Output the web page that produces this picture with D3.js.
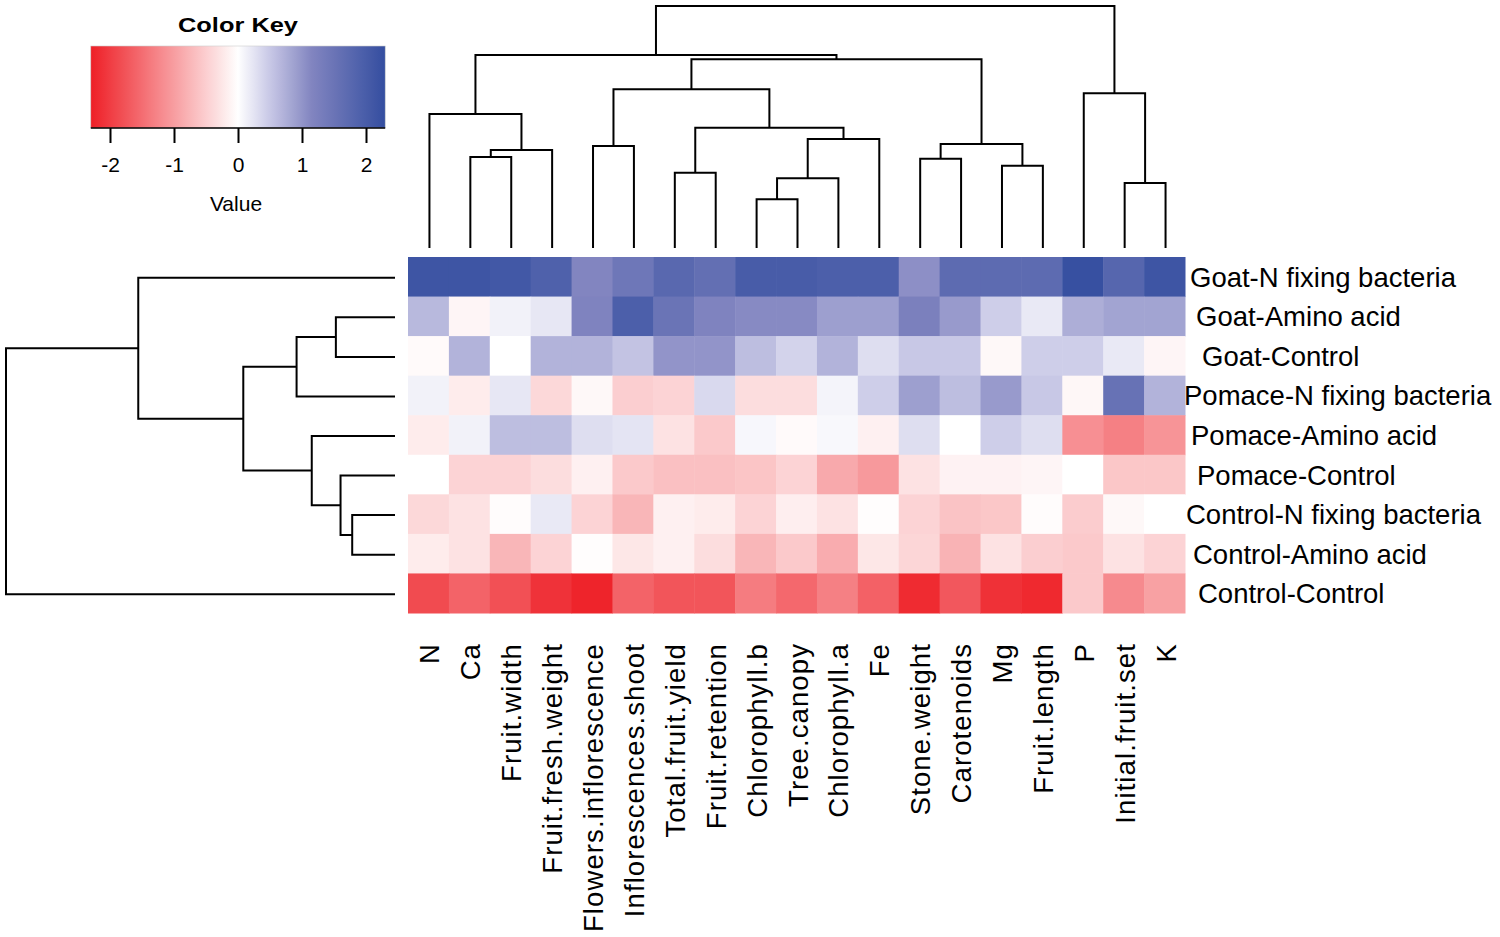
<!DOCTYPE html>
<html lang="en">
<head>
  <meta charset="UTF-8">
  <title>Heatmap with dendrograms</title>
  <script src="https://d3js.org/d3.v7.min.js"></script>
  <style>
    body {
      margin: 0;
      background: #fff;
      font-family: "Liberation Sans", Arial, sans-serif;
    }
    .branch {
      fill: none;
      stroke: #000;
      stroke-width: 2px;
    }
    .row-label {
      font-size: 27.5px;
      fill: #000;
    }
    .col-label {
      font-size: 27.5px;
      letter-spacing: 1.1px;
      fill: #000;
    }
  </style>
</head>
<body>
  <svg id="chart" width="1500" height="937"></svg>
  <script>
    // treatments (rows, top to bottom) and traits (columns, left to right)
    const rows = [
      "Goat-N fixing bacteria", "Goat-Amino acid", "Goat-Control",
      "Pomace-N fixing bacteria", "Pomace-Amino acid", "Pomace-Control",
      "Control-N fixing bacteria", "Control-Amino acid", "Control-Control"
    ];
    const cols = [
      "N", "Ca", "Fruit.width", "Fruit.fresh.weight", "Flowers.inflorescence",
      "Inflorescences.shoot", "Total.fruit.yield", "Fruit.retention",
      "Chlorophyll.b", "Tree.canopy", "Chlorophyll.a", "Fe", "Stone.weight",
      "Carotenoids", "Mg", "Fruit.length", "P", "Initial.fruit.set", "K"
    ];

    // scaled values, one array per row
    const goatN       = [2.15, 2.15, 2.1, 1.9, 1.15, 1.45, 1.75, 1.6, 2.0, 2.0, 1.95, 1.95, 1.05, 1.7, 1.7, 1.7, 2.25, 1.8, 2.15];
    const goatAmino   = [0.65, -0.1, 0.12, 0.22, 1.2, 1.95, 1.5, 1.2, 1.1, 1.1, 0.9, 0.9, 1.25, 0.95, 0.45, 0.2, 0.75, 0.85, 0.85];
    const goatCtrl    = [-0.05, 0.7, 0.0, 0.7, 0.7, 0.55, 1.0, 1.0, 0.6, 0.4, 0.7, 0.3, 0.5, 0.5, -0.07, 0.45, 0.45, 0.2, -0.1];
    const pomaceN     = [0.12, -0.2, 0.22, -0.4, -0.07, -0.5, -0.45, 0.35, -0.35, -0.35, 0.1, 0.45, 0.9, 0.6, 0.95, 0.5, -0.08, 1.55, 0.7];
    const pomaceAmino = [-0.2, 0.12, 0.6, 0.6, 0.3, 0.25, -0.3, -0.55, 0.07, -0.05, 0.06, -0.15, 0.3, 0.0, 0.45, 0.3, -1.15, -1.3, -1.1];
    const pomaceCtrl  = [0.0, -0.45, -0.45, -0.35, -0.15, -0.55, -0.65, -0.65, -0.6, -0.45, -0.88, -1.05, -0.3, -0.13, -0.13, -0.1, 0.0, -0.58, -0.58];
    const ctrlN       = [-0.4, -0.3, -0.03, 0.2, -0.45, -0.75, -0.15, -0.2, -0.45, -0.17, -0.3, -0.02, -0.45, -0.62, -0.58, -0.03, -0.52, -0.07, 0.0];
    const ctrlAmino   = [-0.2, -0.3, -0.75, -0.45, -0.02, -0.25, -0.15, -0.35, -0.75, -0.55, -0.85, -0.25, -0.42, -0.78, -0.3, -0.5, -0.55, -0.3, -0.45];
    const ctrlCtrl    = [-1.85, -1.6, -1.8, -2.1, -2.25, -1.6, -1.75, -1.75, -1.35, -1.55, -1.3, -1.62, -2.18, -1.72, -2.12, -2.2, -0.55, -1.2, -0.97];
    const values = [goatN, goatAmino, goatCtrl, pomaceN, pomaceAmino, pomaceCtrl, ctrlN, ctrlAmino, ctrlCtrl];

    // hclust-style merges: negative = leaf (1-based), positive = earlier merge
    const colMerge = [
      [-9, -10], [-18, -19], [1, -11], [-7, -8], [-15, -16], [-13, -14],
      [-2, -3], [7, -4], [-5, -6], [6, 5], [3, -12], [4, 11], [-1, 8],
      [-17, 2], [9, 12], [15, 10], [13, 16], [17, 14]
    ];
    const colHeight = [2.01, 2.69, 2.88, 3.11, 3.40, 3.69, 3.76, 4.05, 4.21, 4.30, 4.50, 4.97, 5.54, 6.39, 6.56, 7.80, 7.98, 10.0];
    const rowMerge = [[-7, -8], [-6, 1], [-2, -3], [-5, 2], [3, -4], [5, 4], [-1, 6], [7, -9]];
    const rowHeight = [1.10, 1.40, 1.52, 2.14, 2.53, 3.90, 6.60, 10.0];

    // colour key
    const keyTicks = [-2, -1, 0, 1, 2];
    const keyRange = [-2.3, 2.3];

    const svg = d3.select("#chart");

    const x = d3.scaleBand().domain(cols).range([408, 1185]);
    const y = d3.scaleBand().domain(rows).range([257, 613]);
    const color = d3.scaleLinear()
      .domain([keyRange[0], 0, 0.5, 1.15, keyRange[1]])
      .range(["#ee1f26", "#ffffff", "#c8c8e6", "#8285c0", "#344ea0"])
      .clamp(true);

    // heatmap cells
    const cells = [];
    rows.forEach((r, i) => cols.forEach((c, j) => cells.push({ r, c, v: values[i][j] })));
    svg.append("g")
      .selectAll("rect")
      .data(cells)
      .enter()
      .append("rect")
      .attr("x", d => x(d.c))
      .attr("y", d => y(d.r))
      .attr("width", x.bandwidth() + 0.5)
      .attr("height", y.bandwidth() + 0.5)
      .attr("fill", d => color(d.v));

    // row labels (the original has a small stagger between them)
    const rowNudge = [5, 11, 17, -1, 6, 12, 1, 8, 13];
    svg.append("g")
      .selectAll("text")
      .data(rows)
      .enter()
      .append("text")
      .attr("class", "row-label")
      .attr("x", (d, i) => 1185 + rowNudge[i])
      .attr("y", d => y(d) + y.bandwidth() / 2 + 10)
      .text(d => d);

    // column labels, rotated
    svg.append("g")
      .selectAll("text")
      .data(cols)
      .enter()
      .append("text")
      .attr("class", "col-label")
      .attr("text-anchor", "end")
      .attr("transform", d => `translate(${x(d) + x.bandwidth() / 2 + 11},643) rotate(-90)`)
      .text(d => d);

    // generic dendrogram from merge list
    function dendro(merge, heights, leafPos, hScale, vertical) {
      const pos = [], hgt = [];
      const at = k => k < 0 ? [leafPos(-k - 1), 0] : [pos[k - 1], hgt[k - 1]];
      const paths = [];
      merge.forEach((m, i) => {
        const [p1, h1] = at(m[0]);
        const [p2, h2] = at(m[1]);
        const h = heights[i];
        pos.push((p1 + p2) / 2);
        hgt.push(h);
        const pts = [[p1, h1], [p1, h], [p2, h], [p2, h2]]
          .map(([p, hh]) => vertical ? [p, hScale(hh)] : [hScale(hh), p]);
        paths.push(pts);
      });
      return paths;
    }

    const colH = d3.scaleLinear().domain([0, 10]).range([248, 6]);
    const rowH = d3.scaleLinear().domain([0, 10]).range([395, 6]);
    const line = d3.line();

    svg.append("g")
      .selectAll("path")
      .data(dendro(colMerge, colHeight, i => x(cols[i]) + x.bandwidth() / 2 + 1, colH, true))
      .enter()
      .append("path")
      .attr("class", "branch")
      .attr("d", line);

    svg.append("g")
      .selectAll("path")
      .data(dendro(rowMerge, rowHeight, i => y(rows[i]) + y.bandwidth() / 2 + 1, rowH, false))
      .enter()
      .append("path")
      .attr("class", "branch")
      .attr("d", line);

    // Color key
    const kx = d3.scaleLinear().domain([-2, 2]).range([110, 366]);
    const defs = svg.append("defs");
    const grad = defs.append("linearGradient").attr("id", "keygrad");
    d3.range(0, 1.0001, 0.025).forEach(t => {
      const v = keyRange[0] + t * (keyRange[1] - keyRange[0]);
      grad.append("stop").attr("offset", t).attr("stop-color", color(v));
    });

    const key = svg.append("g");
    key.append("rect")
      .attr("x", kx(keyRange[0]))
      .attr("y", 46)
      .attr("width", kx(keyRange[1]) - kx(keyRange[0]))
      .attr("height", 82)
      .attr("fill", "url(#keygrad)")
      .attr("stroke", "#ccc")
      .attr("stroke-width", 0.6);

    const keyAxis = key.append("g")
      .attr("transform", "translate(0,128)")
      .call(d3.axisBottom(kx).tickValues(keyTicks).tickSize(15).tickSizeOuter(0).tickPadding(14));
    keyAxis.attr("font-family", null).attr("font-size", null);
    keyAxis.select(".domain").attr("stroke", "#000").attr("stroke-width", 1.5)
      .attr("d", `M${kx(keyRange[0])},0H${kx(keyRange[1])}`);
    keyAxis.selectAll(".tick line").attr("stroke", "#000").attr("stroke-width", 2);
    keyAxis.selectAll(".tick text")
      .style("font-family", "'Liberation Sans', Arial, sans-serif")
      .style("font-size", "21px")
      .attr("fill", "#000")
      .text(d => d < 0 ? "-" + Math.abs(d) : d);

    key.append("text")
      .attr("x", 238)
      .attr("y", 32)
      .attr("text-anchor", "middle")
      .style("font-size", "21px")
      .attr("font-weight", "bold")
      .attr("textLength", 120)
      .attr("lengthAdjust", "spacingAndGlyphs")
      .text("Color Key");

    key.append("text")
      .attr("x", 236)
      .attr("y", 211)
      .attr("text-anchor", "middle")
      .style("font-size", "21px")
      .text("Value");
  </script>
</body>
</html>
